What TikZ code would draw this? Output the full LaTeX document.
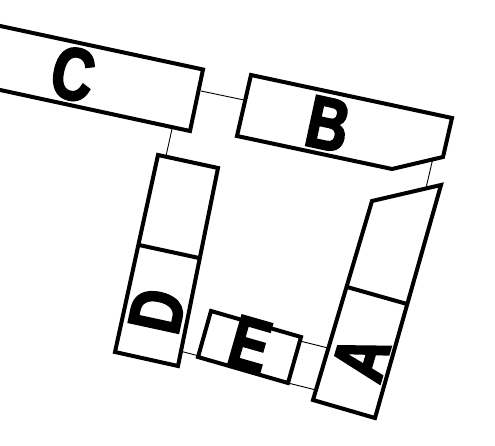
\documentclass[tikz,border=0pt]{standalone}
\usepackage{fontspec}
\setmainfont{Liberation Sans}
\newfontfamily\partfont[FakeStretch=0.78,FakeBold=2.8]{Liberation Sans Bold}
\usepackage{tikz}
\usetikzlibrary{positioning}
\tikzset{
  partoutline/.style={draw, line width=4pt, line join=miter},
  partdivider/.style={draw, line width=4pt},
  partlink/.style={draw, line width=0.9pt},
  partletter/.style={font=\fontsize{74}{74}\partfont, inner sep=0pt},
}

\begin{document}
\begin{tikzpicture}[x=1pt,y=-1pt]
  \useasboundingbox (0,0) rectangle (495,446);
  % link end points
  \coordinate (cb1) at (201,91);
  \coordinate (cb2) at (244,100);
  \coordinate (cd1) at (172,129);
  \coordinate (cd2) at (166,156);
  \coordinate (ba1) at (433,158);
  \coordinate (ba2) at (426,188);
  \coordinate (de1) at (180,351);
  \coordinate (de2) at (199,356);
  \coordinate (ea1) at (300,341);
  \coordinate (ea2) at (328,348);
  \coordinate (ea3) at (288,383);
  \coordinate (ea4) at (316,390);
  \draw[partlink] (cb1) -- (cb2);
  \draw[partlink] (cd1) -- (cd2);
  \draw[partlink] (ba1) -- (ba2);
  \draw[partlink] (de1) -- (de2);
  \draw[partlink] (ea1) -- (ea2);
  \draw[partlink] (ea3) -- (ea4);
  % parts
  \draw[partoutline] (-10,23.8) -- (203,69.5) -- (190,131) -- (-10,87.8);
  \draw[partoutline] (251,75) -- (452,118) -- (443,157) -- (392,169) -- (237,136) -- cycle;
  \draw[partoutline] (441,185) -- (372,201) -- (313,400) -- (375,418) -- cycle;
  \draw[partdivider] (347,287) -- (407,304);
  \draw[partoutline] (158,155) -- (218,168) -- (178,366) -- (115,352) -- cycle;
  \draw[partdivider] (139,245) -- (199,258);
  \draw[partoutline] (211,311) -- (301,337) -- (288,383) -- (198,357) -- cycle;
  % letters
  \node[partletter, rotate=-12.2] (letterC) at (73,74) {C};
  \node[partletter, rotate=-12.2] (letterB) at (328,124) {B};
  \node[partletter, rotate=73.5] (letterA) at (361,358) {A};
  \node[partletter, rotate=77.8] (letterD) at (157,311) {D};
  \node[partletter, rotate=-16] (letterE) at (250,344) {E};
\end{tikzpicture}
\end{document}
